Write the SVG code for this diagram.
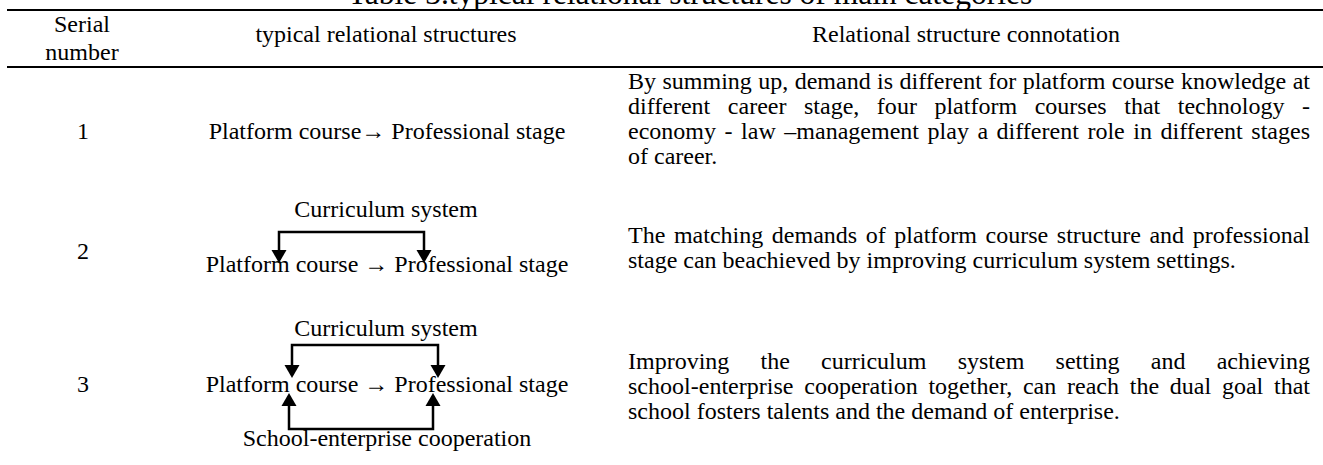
<svg xmlns="http://www.w3.org/2000/svg" width="1323" height="465" viewBox="0 0 1323 465">
<style>
text{font-family:"Liberation Serif","Times New Roman",serif;fill:#000;font-size:24px;}
.m{text-anchor:middle;}
.t{font-size:31.5px;text-anchor:middle;}
.ln{stroke:#000;fill:none;stroke-width:2.5;}
.ah{fill:#000;}
</style>
<rect width="1323" height="465" fill="#fff"/>
<g id="title"><text class="t" x="690" y="4">Table 3.typical relational structures of main categories</text></g>
<g id="rules">
<line x1="7" y1="10" x2="1323" y2="10" stroke="#000" stroke-width="2"/>
<line x1="7" y1="67" x2="1323" y2="67" stroke="#000" stroke-width="2"/>
</g>
<g id="header">
<text class="m" x="82" y="32">Serial</text>
<text class="m" x="82" y="60">number</text>
<text class="m" x="386" y="42">typical relational structures</text>
<text class="m" x="966" y="42">Relational structure connotation</text>
</g>
<g id="row1">
<text class="m" x="83" y="139">1</text>
<text class="m" x="387" y="139">Platform course→ Professional stage</text>
<text x="628" y="89" word-spacing="0.4" textLength="682" lengthAdjust="spacing">By summing up, demand is different for platform course knowledge at</text>
<text x="628" y="114" word-spacing="11.5" textLength="682" lengthAdjust="spacing">different career stage, four platform courses that technology -</text>
<text x="628" y="139" word-spacing="2.5" textLength="682" lengthAdjust="spacing">economy - law –management play a different role in different stages</text>
<text x="628" y="164">of career.</text>
</g>
<g id="row2">
<text class="m" x="83" y="259">2</text>
<text class="m" x="386" y="217">Curriculum system</text>
<text class="m" x="387" y="272">Platform course → Professional stage</text>
<text x="628" y="243" word-spacing="2.6" textLength="682" lengthAdjust="spacing">The matching demands of platform course structure and professional</text>
<text x="628" y="268">stage can beachieved by improving curriculum system settings.</text>
</g>
<g id="row3">
<text class="m" x="83" y="392">3</text>
<text class="m" x="386" y="336">Curriculum system</text>
<text class="m" x="387" y="392">Platform course → Professional stage</text>
<text class="m" x="387" y="446">School-enterprise cooperation</text>
<text x="628" y="369" word-spacing="25.2" textLength="682" lengthAdjust="spacing">Improving the curriculum system setting and achieving</text>
<text x="628" y="394" word-spacing="4.7" textLength="682" lengthAdjust="spacing">school-enterprise cooperation together, can reach the dual goal that</text>
<text x="628" y="419">school fosters talents and the demand of enterprise.</text>
</g>
<g id="connectors">
<polyline class="ln" points="279,251 279,232 424,232 424,251"/>
<polygon class="ah" points="271.5,250 286.5,250 279,263"/>
<polygon class="ah" points="416.5,250 431.5,250 424,263"/>
<polyline class="ln" points="292,366 292,345 438,345 438,366"/>
<polygon class="ah" points="284.5,365 299.5,365 292,378"/>
<polygon class="ah" points="430.5,365 445.5,365 438,378"/>
<polyline class="ln" points="289,405 289,429 433,429 433,405"/>
<polygon class="ah" points="281.5,406 296.5,406 289,393"/>
<polygon class="ah" points="425.5,406 440.5,406 433,393"/>
</g>
</svg>
